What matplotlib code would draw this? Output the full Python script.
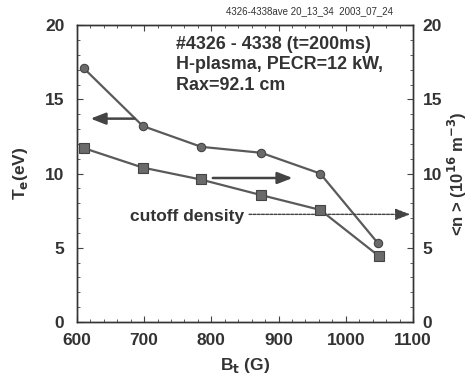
import matplotlib
matplotlib.use("Agg")
import matplotlib.pyplot as plt
from matplotlib.ticker import MultipleLocator

plt.rcParams['font.family'] = ['Liberation Sans', 'DejaVu Sans']

# Data
bt = [610, 698, 785, 874, 962, 1048]
te = [17.1, 13.2, 11.8, 11.4, 10.0, 5.3]
bt_n = [611, 698, 784, 874, 962, 1049]
density = [11.7, 10.4, 9.6, 8.55, 7.55, 4.45]
x_ticks = [600, 700, 800, 900, 1000, 1100]
y_ticks = [0, 5, 10, 15, 20]

line_col = '#5a5a5a'
mark_col = '#6a6a6a'

fig = plt.figure(figsize=(4.74, 3.81), dpi=100)
ax = fig.add_axes([0.1624, 0.155, 0.7088, 0.779])
ax.set_xlim(600, 1100)
ax.set_ylim(0, 20)
ax2 = ax.twinx()
ax2.set_ylim(0, 20)

ax.plot(bt, te, '-', color=line_col, lw=1.6, marker='o', ms=6,
        mfc=mark_col, mec='#444444', mew=0.8)
ax2.plot(bt_n, density, '-', color=line_col, lw=1.6, marker='s', ms=6.5,
         mfc=mark_col, mec='#444444', mew=0.8)

for a in (ax, ax2):
    a.set_yticks(y_ticks)
    a.yaxis.set_minor_locator(MultipleLocator(1))
    for s in a.spines.values():
        s.set_color('#333333')
        s.set_linewidth(1.0)
ax.set_xticks(x_ticks)
ax.xaxis.set_minor_locator(MultipleLocator(20))
ax.tick_params(which='both', direction='in', top=True, labelsize=12.5, color='#444444')
ax.tick_params(axis='x', pad=8)
ax.tick_params(axis='y', pad=9)
ax.tick_params(which='major', length=4)
ax.tick_params(which='minor', length=2)
ax2.tick_params(which='both', direction='in', labelsize=12.5, pad=7, color='#444444')
ax2.tick_params(which='major', length=4)
ax2.tick_params(which='minor', length=2)
for lab in ax.get_xticklabels() + ax.get_yticklabels() + ax2.get_yticklabels():
    lab.set_fontweight('bold')
    lab.set_color('#333333')

ax.set_xlabel('B$_\\mathbf{t}$ (G)', fontsize=12.5, fontweight='bold', color='#333333', labelpad=6)
ax.set_ylabel('T$_\\mathbf{e}$(eV)', fontsize=12.5, fontweight='bold', color='#333333', labelpad=11)
ax2.set_ylabel('<n > (10$^{\\mathbf{16}}$ m$^{\\mathbf{-3}}$)', fontsize=12, fontweight='bold',
               color='#333333', labelpad=3)

ax.text(0.295, 0.965, '#4326 - 4338 (t=200ms)\nH-plasma, PECR=12 kW,\nRax=92.1 cm',
        transform=ax.transAxes, ha='left', va='top', fontsize=12.9, fontweight='bold',
        color='#333333', linespacing=1.28)

fig.text(0.654, 0.972, '4326-4338ave 20_13_34  2003_07_24', fontsize=7,
         ha='center', va='center', color='#333333')

# arrows
ax.annotate('', xy=(616, 13.7), xytext=(690, 13.7),
            arrowprops=dict(arrowstyle='-|>,head_length=0.9,head_width=0.35', color='#444444', lw=1.8))
ax.annotate('', xy=(925, 9.7), xytext=(798, 9.7),
            arrowprops=dict(arrowstyle='-|>,head_length=0.9,head_width=0.35', color='#444444', lw=1.8))
ax.annotate('', xy=(1100, 7.25), xytext=(852, 7.25),
            arrowprops=dict(arrowstyle='-|>,head_length=0.9,head_width=0.35', color='#444444',
                            lw=1.0, linestyle=(0, (2, 1))))
ax.text(849, 7.1, 'cutoff density', ha='right', va='center', fontsize=12.5,
        fontweight='bold', color='#333333')

fig.savefig('out.png', dpi=100)
